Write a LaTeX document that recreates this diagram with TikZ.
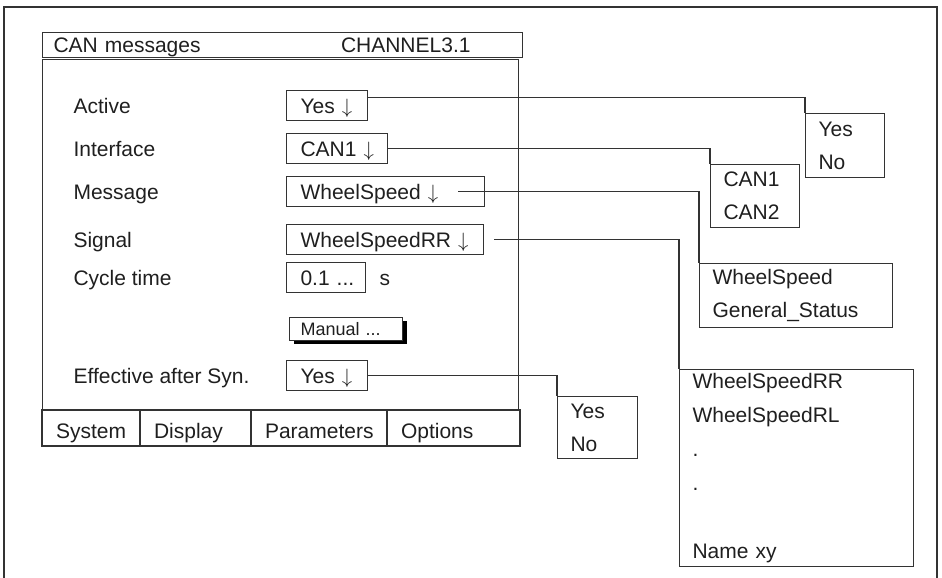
\documentclass[tikz,border=0pt]{standalone}
\usepackage{fontspec}
\setmainfont{Liberation Sans}
\usetikzlibrary{positioning, shadows}
\definecolor{linegray}{gray}{0.2}
\definecolor{textgray}{gray}{0.12}
\tikzset{
  field/.style={draw, anchor=north west, minimum height=30pt, inner xsep=14pt, inner ysep=0pt,
    text height=15pt, text depth=0pt, align=left},
  lbl/.style={anchor=west, inner sep=0pt, text height=15pt, text depth=0pt},
  droplist/.style={draw, anchor=north west, inner xsep=13pt, inner ysep=0pt, align=left},
  tab/.style={draw, minimum height=36pt, inner xsep=14pt, inner ysep=0pt, outer sep=0pt,
    text height=21pt, text depth=0pt, align=left},
}

\begin{document}
\begin{tikzpicture}[x=1pt, y=-1pt, line width=1.1pt, color=linegray, text=textgray,
    font=\fontsize{21}{33}\selectfont]
  \tikzstyle{conline}=[draw]
  \tikzstyle{button}=[draw, fill=white, anchor=north west, minimum height=23pt, inner xsep=11pt,
    inner ysep=0pt, text height=13pt, text depth=0pt, align=left, font=\fontsize{18}{22}\selectfont,
    general shadow={fill=black, shadow xshift=4pt, shadow yshift=-3pt}]

  \useasboundingbox (0,0) rectangle (942,578);
  \draw (4,578) |- (937,7) -- (937,578);

  % window
  \node[draw, anchor=north west, minimum height=25pt, text width=458pt, inner xsep=11pt, inner ysep=0pt,
    text height=15pt, text depth=0pt, align=left] (head) at (42,32) {CAN messages\hfill CHANNEL3.1\hspace*{41pt}};
  \node[draw, anchor=north west, minimum width=476pt, minimum height=351pt, inner sep=0pt] (panel) at (42,59) {};

  \node[field, text width=53pt] (act) at (286,90) {Yes~$\downarrow$};
  \node[field, text width=73pt] (iface) at (286,133) {CAN1~$\downarrow$};
  \node[field, text width=170pt] (msg) at (286,176) {WheelSpeed~$\downarrow$};
  \node[field, text width=169pt] (sig) at (286,224) {WheelSpeedRR~$\downarrow$};
  \node[field, text width=51pt] (cyc) at (286,262) {0.1~...};
  \node[field, text width=53pt] (eff) at (286,360) {Yes~$\downarrow$};
  \node[lbl, right=13pt of cyc] (unit) {s};
  \node[button, text width=91pt] (man) at (289,317) {Manual ...};

  \coordinate (lcol) at (73,0);
  \node[lbl] (lact) at (act -| lcol) {Active};
  \node[lbl] (liface) at (iface -| lcol) {Interface};
  \node[lbl] (lmsg) at (msg -| lcol) {Message};
  \node[lbl] (lsig) at (sig -| lcol) {Signal};
  \node[lbl] (lcyc) at (cyc -| lcol) {Cycle time};
  \node[lbl] (leff) at (eff -| lcol) {Effective after Syn.};

  % tabs
  \node[tab, anchor=north west, text width=70pt] (tsys) at (42,410) {System};
  \node[tab, text width=83pt, right=0pt of tsys] (tdisp) {Display};
  \node[tab, text width=108pt, right=0pt of tdisp] (tpar) {Parameters};
  \node[tab, text width=105pt, right=0pt of tpar] (topt) {Options};

  % drop-down lists
  \node[droplist, text width=53pt, minimum height=64pt] (actl) at (805,113) {Yes\\No};
  \node[droplist, text width=63pt, minimum height=63pt] (ifacel) at (710,164) {CAN1\\CAN2};
  \node[droplist, text width=167pt, minimum height=64pt] (msgl) at (699,263) {WheelSpeed\\General\_Status};
  \node[droplist, text width=208pt, minimum height=197pt, font=\fontsize{21}{34}\selectfont] (sigl) at (679,369)
    {WheelSpeedRR\\WheelSpeedRL\\.\\.\\[34pt]Name xy};
  \node[droplist, text width=54pt, minimum height=62pt] (effl) at (557,396) {Yes\\No};

  \path[conline] ([yshift=8pt]act.east) -| (actl.north west);
  \path[conline] (iface.east) -| (ifacel.north west);
  \path[conline] ([xshift=-27pt]msg.east) -| (msgl.north west);
  \path[conline] ([xshift=10pt]sig.east) -| (sigl.north west);
  \path[conline] (eff.east) -| (effl.north west);
\end{tikzpicture}
\end{document}
